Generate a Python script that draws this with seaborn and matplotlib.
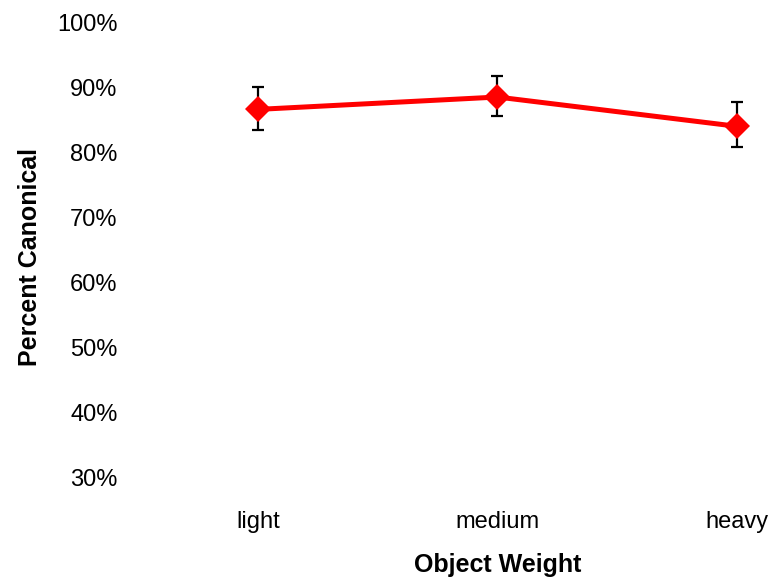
import matplotlib
matplotlib.use("Agg")
import matplotlib.pyplot as plt
import seaborn as sns
import pandas as pd
from matplotlib.ticker import PercentFormatter

# Data
weights = ["light", "medium", "heavy"]
pct_canonical = [0.866, 0.885, 0.840]
err_low = [0.032, 0.029, 0.031]
err_high = [0.034, 0.032, 0.038]
y_ticks = [0.3, 0.4, 0.5, 0.6, 0.7, 0.8, 0.9, 1.0]

sns.set_theme(style="white")
plt.rcParams["font.family"] = ["Liberation Sans", "DejaVu Sans"]
plt.rcParams["text.color"] = "black"
plt.rcParams["axes.labelcolor"] = "black"

df = pd.DataFrame({"weight": weights, "pct": pct_canonical,
                   "pos": range(len(weights))})

fig = plt.figure(figsize=(7.76, 5.84), dpi=100)
ax = fig.add_axes([130 / 776, (584 - 500) / 584, 640 / 776, 485 / 584])

ax.errorbar(df["pos"], df["pct"], yerr=[err_low, err_high], fmt="none",
            ecolor="black", elinewidth=1.6, capsize=4.5, capthick=1.6, zorder=2)
sns.lineplot(data=df, x="pos", y="pct", ax=ax, color="#ff0000", lw=3.6,
             marker="D", markersize=13, markeredgewidth=0, zorder=3)

ax.set_xticks(range(len(weights)))
ax.set_xticklabels(weights)
ax.set_xlim(-0.534, 2.138)
ax.set_ylim(0.266, 1.011)
ax.set_yticks(y_ticks)
ax.yaxis.set_major_formatter(PercentFormatter(1.0, decimals=0))
ax.tick_params(axis="both", length=0, labelsize=17, colors="black")
ax.tick_params(axis="y", pad=9)
ax.tick_params(axis="x", pad=8)

for s in ax.spines.values():
    s.set_visible(False)

ax.set_xlabel("Object Weight", fontsize=18, fontweight="bold")
# center the axis title under the middle category
ax.xaxis.set_label_coords((1 + 0.534) / (2.138 + 0.534), -0.11)
ax.set_ylabel("Percent Canonical", fontsize=18, fontweight="bold", labelpad=11)

fig.savefig("out.png", dpi=100)
